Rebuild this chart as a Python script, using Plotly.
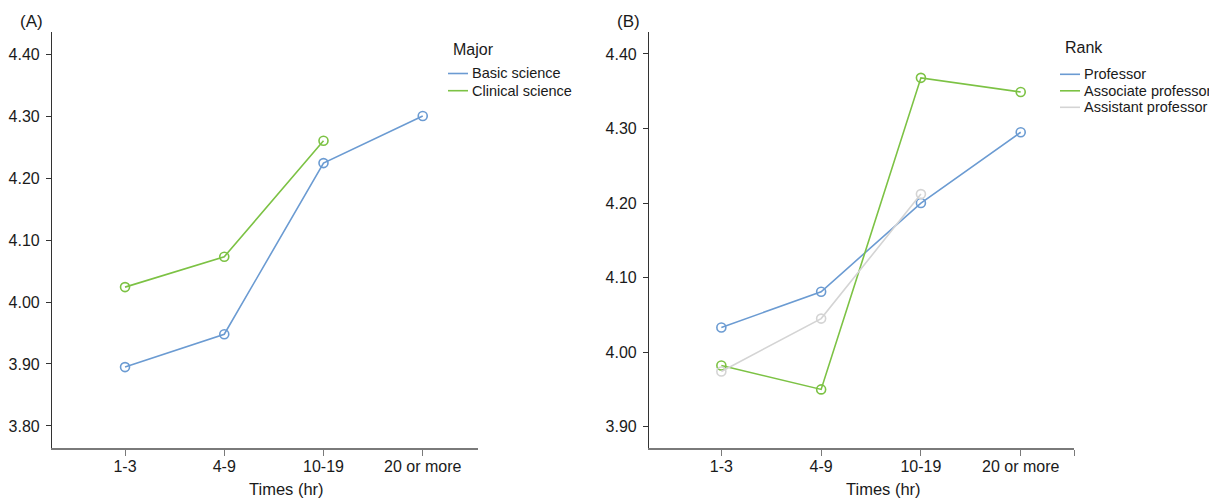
import plotly.graph_objects as go

categories = ["1-3", "4-9", "10-19", "20 or more"]

# Panel A: Major
major_names = ["Basic science", "Clinical science"]
basic_science = [3.895, 3.948, 4.224, 4.300]
clinical_science = [4.024, 4.073, 4.260, None]

# Panel B: Rank
rank_names = ["Professor", "Associate professor", "Assistant professor"]
professor = [4.033, 4.081, 4.200, 4.295]
associate_professor = [3.982, 3.950, 4.368, 4.349]
assistant_professor = [3.974, 4.045, 4.212, None]

y_ticks_a = [3.8, 3.9, 4.0, 4.1, 4.2, 4.3, 4.4]
y_ticks_b = [3.9, 4.0, 4.1, 4.2, 4.3, 4.4]

BLUE = "#6b9bd2"
GREEN = "#7cc244"
GRAY = "#d4d4d4"
TXT = "#1a1a1a"

W, H = 1209, 498
FONT = "Liberation Sans, Arial, sans-serif"


def px(x):
    return x / W


def py(y):
    return (H - y) / H


xpos = list(range(len(categories)))

fig = go.Figure()


def add_series(name, values, color, xa, ya):
    xs = [x for x, v in zip(xpos, values) if v is not None]
    ys = [v for v in values if v is not None]
    fig.add_trace(go.Scatter(
        x=xs, y=ys, mode="lines+markers", xaxis=xa, yaxis=ya, name=name,
        line=dict(color=color, width=1.6),
        marker=dict(symbol="circle-open", size=9, color=color, line=dict(width=1.6)),
        showlegend=False))


add_series(major_names[0], basic_science, BLUE, "x", "y")
add_series(major_names[1], clinical_science, GREEN, "x", "y")
add_series(rank_names[0], professor, BLUE, "x2", "y2")
add_series(rank_names[1], associate_professor, GREEN, "x2", "y2")
add_series(rank_names[2], assistant_professor, GRAY, "x2", "y2")

ytop, ybot = 32, 448
ydom = [py(ybot), py(ytop)]


def xaxis_cfg(rng, extra_end_tick=False):
    tv = list(xpos)
    tt = list(categories)
    if extra_end_tick:
        tv.append(rng[1])
        tt.append("")
    return dict(
        tickmode="array", tickvals=tv, ticktext=tt, range=rng,
        showgrid=False, zeroline=False, showline=True, linecolor="#7a7a7a", linewidth=1.5,
        ticks="outside", ticklen=6, tickcolor="#7a7a7a", tickwidth=1.2,
        tickfont=dict(family=FONT, size=16, color=TXT),
        ticklabelstandoff=-3,
    )


common_y = dict(
    showgrid=False, zeroline=False, showline=True, linecolor="#333", linewidth=1.2,
    ticks="outside", ticklen=5, tickcolor="#333", tickwidth=1,
    tickfont=dict(family=FONT, size=16, color=TXT), tickformat=".2f",
    ticklabelstandoff=3,
)

annotations = [
    dict(text="(A)", x=px(18), y=py(22), xanchor="left", yanchor="middle"),
    dict(text="(B)", x=px(615), y=py(22), xanchor="left", yanchor="middle"),
    dict(text="Times (hr)", x=px(286), y=py(489), xanchor="center", yanchor="middle"),
    dict(text="Times (hr)", x=px(883), y=py(489), xanchor="center", yanchor="middle"),
]
for a in annotations:
    a.update(xref="paper", yref="paper", showarrow=False,
             font=dict(family=FONT, size=17 if a["text"].startswith("(") else 16.5, color=TXT))

shapes = []


def add_legend(title, names, colors, x_line, y_title, y_first, step):
    annotations.append(dict(text=title, x=px(x_line + 3), y=py(y_title), xref="paper", yref="paper",
                            xanchor="left", yanchor="middle", showarrow=False,
                            font=dict(family=FONT, size=16, color=TXT)))
    for i, (n, c) in enumerate(zip(names, colors)):
        yy = y_first + i * step
        shapes.append(dict(type="line", xref="paper", yref="paper",
                           x0=px(x_line), x1=px(x_line + 20), y0=py(yy), y1=py(yy),
                           line=dict(color=c, width=1.6)))
        annotations.append(dict(text=n, x=px(x_line + 22), y=py(yy), xref="paper", yref="paper",
                                xanchor="left", yanchor="middle", showarrow=False,
                                font=dict(family=FONT, size=14.5, color=TXT)))


add_legend("Major", major_names, [BLUE, GREEN], 448, 49, 73.5, 17.2)
add_legend("Rank", rank_names, [BLUE, GREEN, GRAY], 1060, 48, 74.3, 16.5)

fig.update_layout(
    width=W, height=H,
    margin=dict(l=0, r=0, t=0, b=0),
    paper_bgcolor="white", plot_bgcolor="white",
    font=dict(family=FONT, size=14, color=TXT),
    showlegend=False,
    xaxis=dict(domain=[px(52), px(478)], anchor="y", **xaxis_cfg([-0.736, 3.557])),
    yaxis=dict(domain=ydom, anchor="x", range=[3.7645, 4.4355], tickvals=y_ticks_a, **common_y),
    xaxis2=dict(domain=[px(649), px(1074)], anchor="y2", **xaxis_cfg([-0.725, 3.534], True)),
    yaxis2=dict(domain=ydom, anchor="x2", range=[3.8714, 4.4295], tickvals=y_ticks_b, **common_y),
    annotations=annotations,
    shapes=shapes,
)

fig.write_html("out.html", config={"displayModeBar": False},
               post_script="document.body.style.margin='0';document.body.style.overflow='hidden';")
